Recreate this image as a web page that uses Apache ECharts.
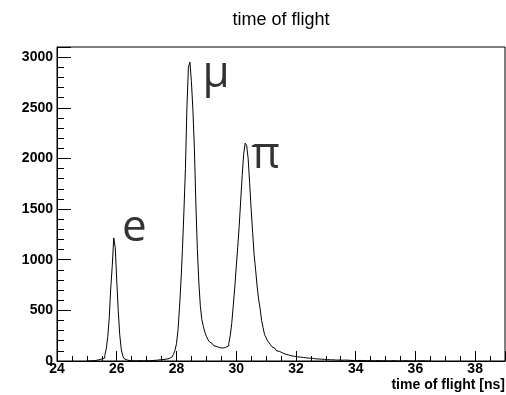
<!DOCTYPE html>
<html>
<head>
<meta charset="utf-8">
<script src="https://cdn.jsdelivr.net/npm/echarts@6/dist/echarts.min.js"></script>
<style>
  html, body { margin: 0; padding: 0; background: #fff; }
  #main { width: 506px; height: 395px; }
</style>
</head>
<body>
<div id="main"></div>
<script>
var chartDom = document.getElementById('main');
var myChart = echarts.init(chartDom);
var option;

// histogram: bins of 0.05 ns starting at 25.00 ns
const binStart = 25.0;
const binWidth = 0.05;
const counts = [
  // 25.00 - 25.45
  0, 1, 0, 2, 3, 5, 8, 12, 15, 20,
  // 25.50 - 25.95 (e)
  22, 30, 55, 120, 240, 430, 720, 940, 1215, 1120,
  // 26.00 - 26.45
  800, 500, 260, 120, 50, 22, 10, 6, 3, 2,
  // 26.50 - 26.95
  2, 5, 1, 0, 3, 0, 2, 0, 1, 2,
  // 27.00 - 27.45
  2, 3, 3, 5, 6, 8, 8, 10, 12, 13,
  // 27.50 - 27.95
  14, 16, 18, 20, 24, 30, 40, 50, 65, 105,
  // 28.00 - 28.45 (mu)
  170, 300, 520, 780, 1100, 1480, 1900, 2500, 2900, 2950,
  // 28.50 - 28.95
  2760, 2480, 2100, 1550, 1100, 770, 540, 410, 340, 285,
  // 29.00 - 29.45
  245, 215, 190, 172, 160, 150, 143, 138, 132, 128,
  // 29.50 - 29.95
  127, 130, 135, 140, 148, 170, 250, 370, 540, 720,
  // 30.00 - 30.45 (pi)
  920, 1120, 1330, 1580, 1830, 2040, 2150, 2130, 2000, 1760,
  // 30.50 - 30.95
  1500, 1270, 1050, 900, 740, 610, 520, 400, 330, 260,
  // 31.00 - 31.45
  230, 200, 180, 160, 140, 125, 110, 100, 95, 88,
  // 31.50 - 31.95
  80, 75, 68, 62, 60, 58, 52, 50, 46, 44,
  // 32.00 - 32.45
  42, 40, 38, 36, 35, 33, 31, 30, 28, 27,
  // 32.50 - 32.95
  26, 24, 22, 21, 20, 19, 18, 17, 16, 15,
  // 33.00 - 33.45
  14, 13, 12, 11, 12, 10, 9, 11, 10, 9,
  // 33.50 - 33.95
  8, 10, 9, 7, 8, 10, 6, 7, 5, 6,
  // 34.00 - 34.45
  5, 4, 6, 3, 4, 5, 3, 2, 3, 4,
  // 34.50 - 34.95
  2, 3, 1, 2, 4, 1, 2, 3, 1, 2,
  // 35.00 - 35.45
  1, 2, 0, 1, 3, 0, 1, 2, 0, 1,
  // 35.50 - 35.95
  0, 1, 2, 0, 1, 0, 0, 2, 0, 1,
  // 36.00 - 36.45
  0, 0, 1, 0, 2, 0, 0, 1, 0, 0
];

// particle labels: [time (ns), counts, text]
const particleLabels = [
  [26.18, 1310, 'e'],
  [28.87, 2830, 'μ'],
  [30.5, 2030, 'π']
];

const xTicks = { min: 24, max: 39, interval: 2 };
const yTicks = { min: 0, max: 3100, interval: 500 };

const histData = counts.map(function (c, i) {
  return [binStart + i * binWidth, c];
});
histData.push([binStart + counts.length * binWidth, 0]);

const labelFont = 'Liberation Sans, Arial, Helvetica, sans-serif';

option = {
  animation: false,
  backgroundColor: '#fff',
  title: [
    {
      text: 'time of flight',
      left: 281,
      textAlign: 'center',
      top: 11,
      padding: 0,
      textStyle: {
        fontFamily: labelFont,
        fontSize: 18,
        fontWeight: 'normal',
        color: '#000'
      }
    },
    {
      text: 'time of flight [ns]',
      right: 1,
      top: 378,
      padding: 0,
      textStyle: {
        fontFamily: labelFont,
        fontSize: 14,
        fontWeight: 'bold',
        color: '#000'
      }
    }
  ],
  grid: {
    left: 57,
    right: 1,
    top: 47,
    bottom: 34,
    show: true,
    borderColor: '#000',
    borderWidth: 1
  },
  xAxis: {
    type: 'value',
    min: xTicks.min,
    max: xTicks.max,
    interval: xTicks.interval,
    axisLine: { lineStyle: { color: '#000', width: 1 } },
    axisTick: { inside: true, length: 10, lineStyle: { color: '#000' } },
    minorTick: { show: true, splitNumber: 4, length: 5, lineStyle: { color: '#000' } },
    splitLine: { show: false },
    axisLabel: {
      showMaxLabel: false,
      margin: 1,
      formatter: function (v) { return String(v); },
      fontFamily: labelFont,
      fontSize: 14,
      fontWeight: 'bold',
      color: '#000'
    }
  },
  yAxis: {
    type: 'value',
    min: yTicks.min,
    max: yTicks.max,
    interval: yTicks.interval,
    axisLine: { show: true, lineStyle: { color: '#000', width: 1 } },
    axisTick: { show: true, inside: true, length: 14, lineStyle: { color: '#000' } },
    minorTick: { show: true, splitNumber: 5, length: 7, lineStyle: { color: '#000' } },
    splitLine: { show: false },
    axisLabel: {
      showMaxLabel: false,
      margin: 4,
      formatter: function (v) { return String(v); },
      fontFamily: labelFont,
      fontSize: 14,
      fontWeight: 'bold',
      color: '#000'
    }
  },
  series: [
    {
      name: 'tof',
      type: 'line',
      step: 'end',
      data: histData,
      symbol: 'none',
      lineStyle: { color: '#000', width: 1 }
    },
    {
      name: 'labels',
      type: 'scatter',
      data: particleLabels,
      symbolSize: 0,
      silent: true,
      label: {
        show: true,
        position: 'inside',
        align: 'left',
        verticalAlign: 'middle',
        formatter: function (p) {
          return p.data[2];
        },
        fontFamily: 'Open Sans, Noto Sans, sans-serif',
        fontSize: 44,
        color: '#000',
        textBorderWidth: 0
      }
    }
  ]
};

option && myChart.setOption(option);
</script>
</body>
</html>
